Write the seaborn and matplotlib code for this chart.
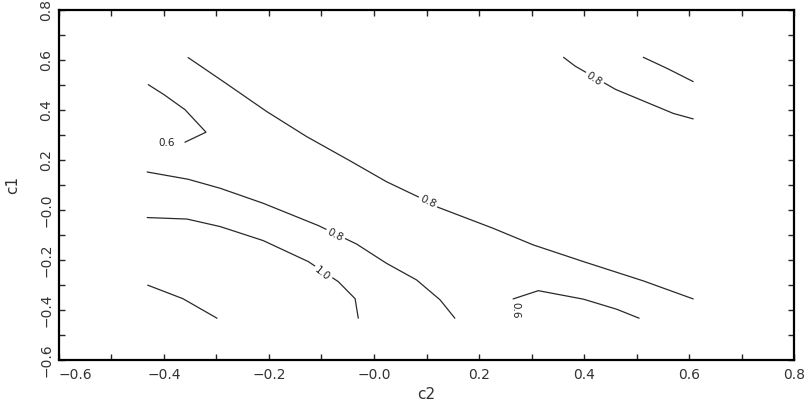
import numpy as np
import pandas as pd
import seaborn as sns
import matplotlib.pyplot as plt

# contour paths (c2 = x, c1 = y)
line_a_c2 = [-0.43, -0.40, -0.36, -0.32, -0.36]
line_a_c1 = [0.50, 0.46, 0.40, 0.31, 0.27]

line_b_c2 = [-0.354, -0.284, -0.204, -0.128, -0.046, 0.024, 0.084, 0.122, 0.227, 0.303, 0.399, 0.513, 0.608]
line_b_c1 = [0.608, 0.508, 0.392, 0.292, 0.196, 0.112, 0.052, 0.010, -0.074, -0.140, -0.207, -0.284, -0.356]

line_c_c2 = [0.361, 0.383, 0.460, 0.570, 0.608]
line_c_c1 = [0.609, 0.574, 0.481, 0.385, 0.363]

line_d_c2 = [0.513, 0.558, 0.608]
line_d_c1 = [0.609, 0.565, 0.512]

line_e_c2 = [-0.432, -0.354, -0.293, -0.211, -0.106, -0.033, 0.024, 0.081, 0.126, 0.154]
line_e_c1 = [0.151, 0.122, 0.086, 0.026, -0.063, -0.137, -0.214, -0.280, -0.360, -0.433]

line_f_c2 = [-0.432, -0.356, -0.293, -0.211, -0.125, -0.068, -0.036, -0.030]
line_f_c1 = [-0.031, -0.037, -0.067, -0.123, -0.207, -0.287, -0.355, -0.433]

line_g_c2 = [-0.431, -0.364, -0.299]
line_g_c1 = [-0.301, -0.355, -0.433]

line_h_c2 = [0.265, 0.313, 0.399, 0.462, 0.505]
line_h_c1 = [-0.356, -0.323, -0.357, -0.397, -0.433]

# contour labels: text, c2, c1, angle
label_text = ["0.6", "0.8", "0.8", "0.8", "1.0", "0.6"]
label_c2 = [-0.395, 0.103, 0.419, -0.074, -0.098, 0.270]
label_c1 = [0.268, 0.032, 0.522, -0.101, -0.254, -0.400]
label_rot = [0, -25, -33, -27, -38, -90]

xticks = [-0.6, -0.4, -0.2, 0.0, 0.2, 0.4, 0.6, 0.8]
xtick_labels = ["\u22120.6", "\u22120.4", "\u22120.2", "\u22120.0", "0.2", "0.4", "0.6", "0.8"]
yticks = [-0.6, -0.4, -0.2, 0.0, 0.2, 0.4, 0.6, 0.8]
ytick_labels = ["\u22120.6", "\u22120.4", "\u22120.2", "\u22120.0", "0.2", "0.4", "0.6", "0.8"]

lines = {
    "a": (line_a_c2, line_a_c1), "b": (line_b_c2, line_b_c1),
    "c": (line_c_c2, line_c_c1), "d": (line_d_c2, line_d_c1),
    "e": (line_e_c2, line_e_c1), "f": (line_f_c2, line_f_c1),
    "g": (line_g_c2, line_g_c1), "h": (line_h_c2, line_h_c1),
}
rows = []
for name, (xs, ys) in lines.items():
    for i, (x, y) in enumerate(zip(xs, ys)):
        rows.append({"line": name, "order": i, "c2": x, "c1": y})
df = pd.DataFrame(rows)

sns.set_style("ticks")
plt.rcParams["font.family"] = ["DejaVu Sans"]

fig = plt.figure(figsize=(8.09, 4.01), dpi=100)
ax = fig.add_axes([0.0729, 0.1022, 0.9086, 0.8741])

sns.lineplot(data=df, x="c2", y="c1", units="line", estimator=None, sort=False,
             color="#2a2a2a", linewidth=0.9, ax=ax)

for t, x, y, r in zip(label_text, label_c2, label_c1, label_rot):
    ax.text(x, y, t, rotation=r, ha="center", va="center", fontsize=7.5, color="#222222",
            rotation_mode="anchor",
            bbox=dict(facecolor="white", edgecolor="none", pad=1.5))

ax.set_xlim(-0.6, 0.8)
ax.set_ylim(-0.6, 0.8)
ax.set_xticks(xticks)
ax.set_xticklabels(xtick_labels, fontsize=10, color="#333333")
ax.get_xticklabels()[0].set_horizontalalignment("left")
ax.set_yticks(yticks)
ax.set_yticklabels(ytick_labels, fontsize=10, color="#333333", rotation=90, va="center")
ax.set_xticks(np.arange(-0.5, 0.8, 0.2), minor=True)
ax.set_yticks(np.arange(-0.5, 0.8, 0.2), minor=True)
ax.tick_params(which="both", direction="in", length=4, width=1, top=True, right=True)
ax.tick_params(axis="x", pad=6)
ax.tick_params(axis="y", pad=4)
for s in ax.spines.values():
    s.set_linewidth(1.6)
    s.set_color("black")

ax.set_xlabel("c2", fontsize=11, color="#333333", labelpad=3)
ax.set_ylabel("c1", fontsize=11, color="#333333", labelpad=14)

fig.savefig("out.png", dpi=100)
